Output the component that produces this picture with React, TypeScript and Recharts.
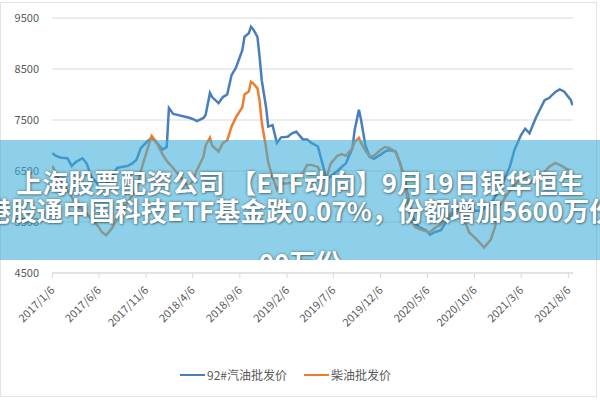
import React from 'react';
import { LineChart, Line, XAxis, YAxis, CartesianGrid } from 'recharts';

const dates = [
  '2017-01-06', '2017-01-20', '2017-02-03', '2017-02-24', '2017-03-10', '2017-03-24', '2017-04-14', '2017-04-28',
  '2017-05-12', '2017-06-02', '2017-06-16', '2017-06-30', '2017-07-21', '2017-08-04', '2017-08-18', '2017-09-08',
  '2017-09-22', '2017-10-06', '2017-10-20', '2017-11-10', '2017-11-24', '2017-12-08', '2017-12-29', '2018-01-12',
  '2018-01-19', '2018-02-02', '2018-02-16', '2018-03-02', '2018-03-23', '2018-04-06', '2018-04-20', '2018-05-11',
  '2018-05-18', '2018-06-01', '2018-06-08', '2018-06-29', '2018-07-13', '2018-07-27', '2018-08-10', '2018-08-24',
  '2018-09-14', '2018-09-21', '2018-10-05', '2018-10-12', '2018-10-19', '2018-11-02', '2018-11-09', '2018-11-16',
  '2018-11-30', '2018-12-07', '2018-12-21', '2019-01-04', '2019-01-18', '2019-02-08', '2019-02-22', '2019-03-08',
  '2019-03-29', '2019-04-12', '2019-04-26', '2019-05-17', '2019-05-31', '2019-06-14', '2019-06-28', '2019-07-19',
  '2019-08-02', '2019-08-16', '2019-09-06', '2019-09-13', '2019-09-27', '2019-10-04', '2019-10-18', '2019-11-01',
  '2019-11-15', '2019-12-06', '2019-12-20', '2020-01-03', '2020-01-24', '2020-02-07', '2020-02-21', '2020-03-13',
  '2020-03-27', '2020-04-10', '2020-05-01', '2020-05-15', '2020-05-29', '2020-06-19', '2020-07-03', '2020-07-17',
  '2020-07-31', '2020-08-21', '2020-09-04', '2020-09-18', '2020-10-09', '2020-10-23', '2020-11-06', '2020-11-27',
  '2020-12-11', '2020-12-25', '2021-01-15', '2021-01-29', '2021-02-12', '2021-03-05', '2021-03-19', '2021-04-02',
  '2021-04-23', '2021-05-07', '2021-05-21', '2021-06-04', '2021-06-25', '2021-07-09', '2021-07-23', '2021-08-13',
  '2021-08-20',
];

const gasoline92 = [
  6850, 6790, 6760, 6750, 6600, 6680, 6750, 6640,
  6390, 6250, 6180, 6250, 6400, 6560, 6580, 6600,
  6650, 6720, 6950, 7080, 7150, 7070, 6920, 6970,
  7735, 7620, 7600, 7580, 7550, 7520, 7480, 7540,
  7600, 8030, 7950, 7830, 7950, 8000, 8380, 8520,
  8870, 9130, 9200, 9330, 9280, 9130, 8740, 8280,
  7750, 7370, 7400, 7050, 7160, 7170, 7240, 7270,
  7120, 7120, 7050, 6980, 6660, 6350, 6400, 6500,
  6580, 6650, 6950, 7300, 7700, 7500, 7000, 6780,
  6740, 6820, 6880, 6910, 6880, 6660, 6380, 5740,
  5480, 5400, 5340, 5250, 5300, 5340, 5480, 5600,
  5700, 5780, 5790, 5750, 5720, 5720, 5760, 5850,
  5990, 6130, 6390, 6600, 6910, 7200, 7330, 7240,
  7550, 7720, 7890, 7930, 8050, 8100, 8060, 7900,
  7790,
];

const diesel = [
  6600, 6420, 6280, 6130, 5990, 5820, 5740, 5660,
  5560, 5430, 5300, 5240, 5400, 5580, 5720, 5880,
  6030, 6160, 6500, 6920, 7190, 7080, 6830, 6700,
  6650, 6560, 6450, 6350, 6180, 6300, 6520, 6780,
  7000, 7150, 7000, 6880, 7050, 7100, 7370, 7550,
  7750, 8000, 8060, 8250, 8220, 8120, 7880, 7450,
  6950, 6660, 6380, 6130, 6250, 6260, 6270, 6380,
  6460, 6620, 6620, 6580, 6390, 6380, 6650, 6800,
  6830, 6800, 6950, 7070, 7150, 7050, 6900, 6780,
  6800, 6910, 6970, 6950, 6880, 6660, 6330, 5540,
  5400, 5360, 5320, 5300, 5380, 5450, 5560, 5650,
  5740, 5700, 5520, 5300, 5180, 5090, 5000, 5150,
  5400, 5800, 6000, 6120, 6230, 6330, 6390, 6260,
  6350, 6420, 6480, 6580, 6660, 6620, 6570, 6500,
  6460,
];

const tickLabels = [
  '2017/1/6', '2017/6/6', '2017/11/6', '2018/4/6', '2018/9/6', '2019/2/6',
  '2019/7/6', '2019/12/6', '2020/5/6', '2020/10/6', '2021/3/6', '2021/8/6',
];

const yTicks = [4500, 5500, 6500, 7500, 8500, 9500];

const seriesNames = ['92#汽油批发价', '柴油批发价'];

const bannerLines = [
  '上海股票配资公司 【ETF动向】9月19日银华恒生',
  '港股通中国科技ETF基金跌0.07%，份额增加5600万份',
  '00万份',
];

const toTime = (s: string) => {
  const [y, m, d] = s.split(/[-/]/).map(Number);
  return Date.UTC(y, m - 1, d);
};

const data = dates.map((d, i) => ({ t: toTime(d), g: gasoline92[i], d: diesel[i] }));
const tickTimes = tickLabels.map(toTime);

const BLUE = '#4a7ebb';
const ORANGE = '#ed7d31';
const FONT = '"Noto Sans CJK SC", "Noto Sans", sans-serif';

const XTick = (props: any) => {
  const { x, y, payload } = props;
  const idx = tickTimes.indexOf(payload.value);
  const label = idx >= 0 ? tickLabels[idx] : '';
  const ax = x + 3;
  const ay = y + 11;
  return (
    <text
      x={ax}
      y={ay}
      transform={`rotate(-45, ${ax}, ${ay})`}
      textAnchor="end"
      fill="#595959"
      fontSize={11}
      fontFamily={FONT}
    >
      {label}
    </text>
  );
};

export default function App() {
  return (
    <div style={{ position: 'absolute', left: 0, top: 0, width: 600, height: 400, background: '#fff', overflow: 'hidden', fontFamily: FONT }}>
      <div style={{ position: 'absolute', left: 0, top: 2, width: 595, height: 393, border: '1px solid #e3e3e3' }} />
      <div style={{ position: 'absolute', left: 0, top: 0 }}>
        <LineChart width={600} height={400} data={data} margin={{ top: 18, right: 27, bottom: 97, left: 8 }}>
          <CartesianGrid horizontal vertical={false} stroke="#d9d9d9" strokeWidth={1} />
          <XAxis
            dataKey="t"
            type="number"
            scale="time"
            domain={[Date.UTC(2017, 0, 5), Date.UTC(2021, 7, 21)]}
            ticks={tickTimes}
            interval={0}
            height={30}
            axisLine={{ stroke: '#d9d9d9' }}
            tickLine={{ stroke: '#d9d9d9' }}
            tickSize={5}
            tick={<XTick />}
            allowDataOverflow
          />
          <YAxis
            type="number"
            domain={[4500, 9500]}
            ticks={yTicks}
            interval={0}
            width={44}
            axisLine={false}
            tickLine={false}
            tickSize={0}
            tickMargin={13}
            tick={{ fill: '#595959', fontSize: 11, fontFamily: FONT }}
          />
          <Line type="linear" dataKey="g" name={seriesNames[0]} stroke={BLUE} strokeWidth={2.5} dot={false} isAnimationActive={false} />
          <Line type="linear" dataKey="d" name={seriesNames[1]} stroke={ORANGE} strokeWidth={2.5} dot={false} isAnimationActive={false} />
        </LineChart>
      </div>
      <div style={{ position: 'absolute', left: 180, top: 366, height: 18, display: 'flex', alignItems: 'center', fontSize: 12, color: '#595959' }}>
        {seriesNames.map((n, i) => (
          <div key={n} style={{ display: 'flex', alignItems: 'center', marginRight: i === 0 ? 17 : 0 }}>
            <div style={{ width: 25, height: 2.5, background: i === 0 ? BLUE : ORANGE, marginRight: 2 }} />
            <span style={{ lineHeight: '18px' }}>{n}</span>
          </div>
        ))}
      </div>
      <div style={{ position: 'absolute', left: 0, top: 140, width: 600, height: 120, background: 'rgba(56,172,218,0.57)', overflow: 'hidden' }}>
        {bannerLines.map((l, i) => (
          <div
            key={i}
            style={{
              position: 'absolute',
              left: -100,
              width: 800,
              top: [28, 56, 108][i],
              height: 28,
              lineHeight: '28px',
              textAlign: 'center',
              whiteSpace: 'nowrap',
              color: '#fff',
              fontSize: 26,
              fontWeight: 700,
              fontFamily: FONT,
              textShadow: '0 0 3px rgba(0,0,0,0.45), 1px 1px 2px rgba(0,0,0,0.3)',
            }}
          >
            {l}
          </div>
        ))}
      </div>
    </div>
  );
}
